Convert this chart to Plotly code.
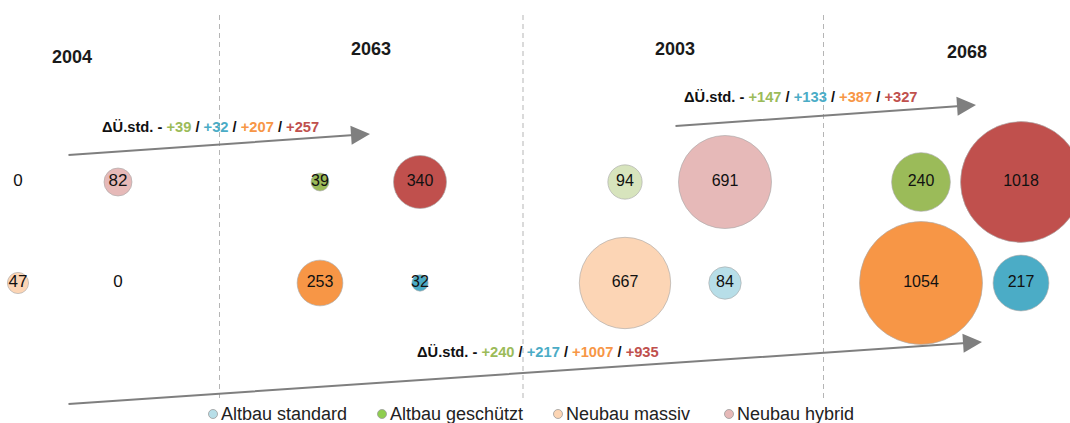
import plotly.graph_objects as go

# ---- data -------------------------------------------------------------
years = ["2004", "2063", "2003", "2068"]
categories = ["Altbau geschützt", "Neubau hybrid", "Neubau massiv", "Altbau standard"]

# values per year, in the order of `categories`
values_2004 = [0, 82, 47, 0]
values_2063 = [39, 340, 253, 32]
values_2003 = [94, 691, 667, 84]
values_2068 = [240, 1018, 1054, 217]

# stated changes, order: geschützt / standard / massiv / hybrid
delta_2004_2063 = ["+39", "+32", "+207", "+257"]
delta_2003_2068 = ["+147", "+133", "+387", "+327"]
delta_2004_2068 = ["+240", "+217", "+1007", "+935"]

legend_labels = ["Altbau standard", "Altbau geschützt", "Neubau massiv", "Neubau hybrid"]

# ---- styling / layout -------------------------------------------------
W, H = 1070, 423
FONT = "Liberation Sans, Arial, sans-serif"

# slot of each category inside a year block: (column, row)
slot = {
    "Altbau geschützt": (0, 0),
    "Neubau hybrid": (1, 0),
    "Neubau massiv": (0, 1),
    "Altbau standard": (1, 1),
}
block_left = [18, 320, 625, 921]
COL_PITCH = 100
ROW_Y = [182, 283]

# each year block is scaled on its own (largest bubble -> this diameter)
block_max_diam = [28, 53, 93, 123]
label_size = [17, 16, 16, 16]
title_dx = [4, 1, 0, -4]
title_y = [57, 49, 49, 52]

light = {"Altbau geschützt": "#d7e4bd", "Neubau hybrid": "#e6b9b8",
         "Neubau massiv": "#fcd5b5", "Altbau standard": "#b7dee8"}
strong = {"Altbau geschützt": "#9bbb59", "Neubau hybrid": "#c0504d",
          "Neubau massiv": "#f79646", "Altbau standard": "#4bacc6"}
palettes = [light, strong, light, strong]
legend_colors = {"Altbau standard": "#b7dee8", "Altbau geschützt": "#8fce4e",
                 "Neubau massiv": "#fcd5b4", "Neubau hybrid": "#e6b9b8"}
legend_x = [213, 382, 558, 729]
LEGEND_Y = 414
delta_colors = ["#9bbb59", "#4bacc6", "#f79646", "#c0504d"]

all_values = [values_2004, values_2063, values_2003, values_2068]


def block_x(g, col):
    return block_left[g] + col * COL_PITCH


fig = go.Figure()

for g, (year, vals) in enumerate(zip(years, all_values)):
    xs = [block_x(g, slot[c][0]) for c in categories]
    ys = [ROW_Y[slot[c][1]] for c in categories]
    vmax = max(vals)
    fig.add_trace(go.Scatter(
        x=xs, y=ys, mode="markers+text", name=year,
        text=[str(v) for v in vals], textposition="middle center",
        textfont=dict(family=FONT, size=label_size[g], color="#111111"),
        marker=dict(
            size=vals, sizemode="area",
            sizeref=2.0 * vmax / block_max_diam[g] ** 2,
            color=[palettes[g][c] for c in categories],
            opacity=1,
            line=dict(color="rgba(170,170,170,0.8)", width=0.8),
        ),
        showlegend=False, hoverinfo="skip", cliponaxis=False,
    ))

shapes = []
annotations = []

# dashed separators between the year blocks
for g in range(1, len(years)):
    xm = (block_x(g - 1, 1) + block_x(g, 0)) / 2 + 0.5
    shapes.append(dict(type="line", xref="x", yref="y", x0=xm, x1=xm, y0=15, y1=400,
                       line=dict(color="#b5b5b5", width=1, dash="5px,4px")))

# year titles
for g, year in enumerate(years):
    annotations.append(dict(
        x=block_x(g, 0.5) + title_dx[g], y=title_y[g], xref="x", yref="y",
        text=f"<b>{year}</b>", showarrow=False,
        font=dict(family=FONT, size=18, color="#1a1a1a"),
        xanchor="center", yanchor="middle"))


def delta_text(parts):
    colored = " / ".join(f"<span style='color:{c}'>{p}</span>"
                         for p, c in zip(parts, delta_colors))
    return f"<b>ΔÜ.std. - {colored}</b>"


# arrows: (start x, start y, tip x, tip y), text anchor, stated changes
arrows = [
    ((67, 155, 370, 134), (100, 127), delta_2004_2063),
    ((674, 126, 976, 105), (682, 97), delta_2003_2068),
    ((67, 404, 982, 342), (415, 352), delta_2004_2068),
]
for (sx, sy, tx, ty), (lx, ly), parts in arrows:
    annotations.append(dict(
        x=tx, y=ty, ax=sx, ay=sy, xref="x", yref="y", axref="x", ayref="y",
        text="", showarrow=True, arrowhead=2, arrowsize=1.9, arrowwidth=2,
        arrowcolor="#7f7f7f", standoff=0, startstandoff=0))
    annotations.append(dict(
        x=lx, y=ly, xref="x", yref="y", text=delta_text(parts), showarrow=False,
        xanchor="left", yanchor="middle",
        font=dict(family=FONT, size=14.7, color="#111111")))

# legend row: symbol + label per category
for name, lx in zip(legend_labels, legend_x):
    shapes.append(dict(type="circle", xref="x", yref="y",
                       x0=lx - 4.5, x1=lx + 4.5, y0=LEGEND_Y - 4.5, y1=LEGEND_Y + 4.5,
                       fillcolor=legend_colors[name],
                       line=dict(color="#9a9a9a", width=0.8)))
    annotations.append(dict(
        x=lx + 6, y=LEGEND_Y, xref="x", yref="y", text=name, showarrow=False,
        xanchor="left", yanchor="middle",
        font=dict(family=FONT, size=18, color="#222222")))

fig.update_layout(
    width=W, height=H, autosize=False,
    margin=dict(l=0, r=0, t=0, b=0),
    paper_bgcolor="white", plot_bgcolor="white",
    xaxis=dict(range=[0, W], visible=False, fixedrange=True),
    yaxis=dict(range=[H, 0], visible=False, fixedrange=True),
    shapes=shapes, annotations=annotations,
    showlegend=False,
)

fig.write_html("out.html")
